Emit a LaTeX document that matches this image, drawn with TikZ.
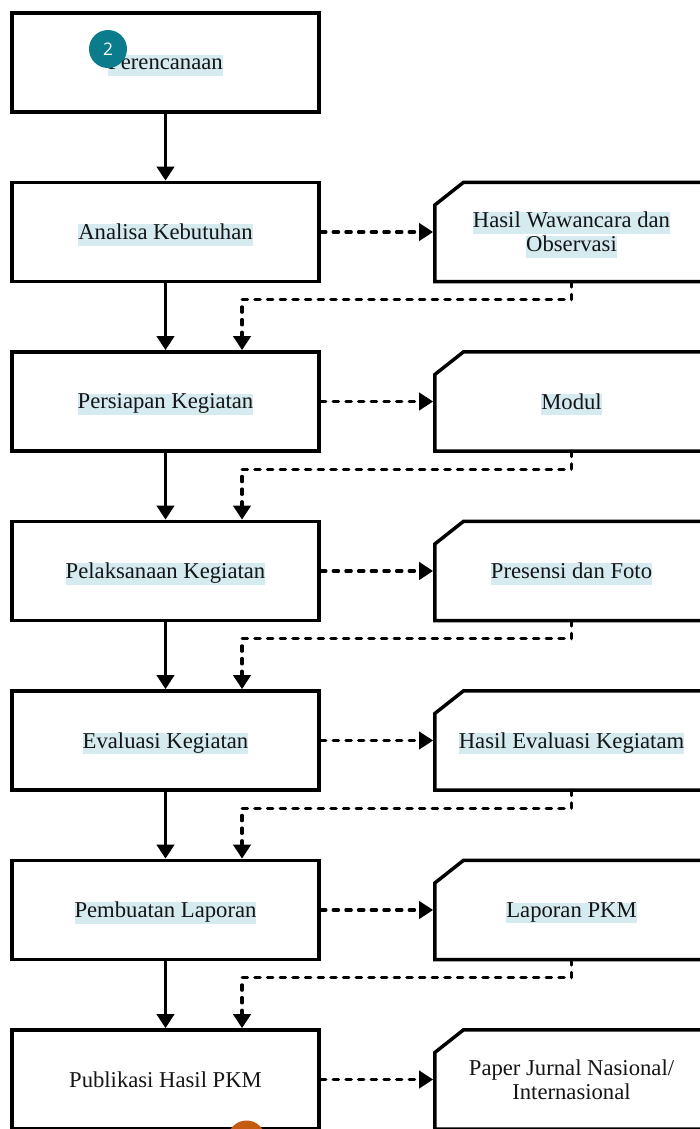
\documentclass[tikz,border=0pt]{standalone}
\usepackage{xcolor}
\usepackage{fontspec}
\setmainfont{Liberation Serif}
\newfontfamily\notefont{Open Sans}
\usepackage{tikz}
\usetikzlibrary{arrows.meta,positioning}
\definecolor{MarkBG}     {HTML}{D5EBEF}
\definecolor{NoteTeal}   {HTML}{0B7C8B}
\definecolor{NoteOrange} {HTML}{C55A11}
\definecolor{InkText}    {HTML}{151515}
\newcommand{\hilite}[1]{\raisebox{-2.2pt}[\height][\depth]{\setlength{\fboxsep}{0pt}\colorbox{MarkBG}{\rule[-4.5pt]{0pt}{13pt}#1}}}

\begin{document}
\begin{tikzpicture}[x=0.75pt,y=-0.75pt,
    stagebox/.style={draw,line width=2.6pt,minimum width=230pt,minimum height=74.5pt,
                     inner sep=0pt,align=center,text=InkText,font=\fontsize{17}{18}\selectfont},
    outbox/.style={stagebox,draw=none,outer sep=0pt,minimum width=205pt},
    outline/.style={line width=2.6pt,line join=miter},
    flow/.style={line width=2.4pt,-{Triangle[length=10.5pt,width=13pt]}},
    feed/.style={flow,dash pattern=on 4pt off 5.5pt,line cap=round},
    note/.style={circle,inner sep=0pt,minimum size=28.5pt,text=white,
                 font=\notefont\fontsize{13}{13}\selectfont}]
    \useasboundingbox (0,0) rectangle (700,1129);

    \node[stagebox] (s1) at (165.5,62.5)  {\hilite{Perencanaan}};
    \node[stagebox] (s2) at (165.5,232)   {\hilite{Analisa Kebutuhan}};
    \node[stagebox] (s3) at (165.5,401.5) {\hilite{Persiapan Kegiatan}};
    \node[stagebox] (s4) at (165.5,571)   {\hilite{Pelaksanaan Kegiatan}};
    \node[stagebox] (s5) at (165.5,740.5) {\hilite{Evaluasi Kegiatan}};
    \node[stagebox] (s6) at (165.5,910)   {\hilite{Pembuatan Laporan}};
    \node[stagebox] (s7) at (165.5,1079.5){Publikasi Hasil PKM};

    \node[outbox] (o2) at (571.5,232)   {\hilite{Hasil Wawancara dan}\\\hilite{Observasi}};
    \node[outbox] (o3) at (571.5,401.5) {\hilite{Modul}};
    \node[outbox] (o4) at (571.5,571)   {\hilite{Presensi dan Foto}};
    \node[outbox] (o5) at (571.5,740.5) {\hilite{Hasil Evaluasi Kegiatam}};
    \node[outbox] (o6) at (571.5,910)   {\hilite{Laporan PKM}};
    \node[outbox] (o7) at (571.5,1079.5){Paper Jurnal Nasional/\\Internasional};

    \foreach \i in {2,...,7}
      \draw[outline] ([yshift=-17pt]o\i.north west) -- ([xshift=21.5pt]o\i.north west)
        -- (o\i.north east) -- (o\i.south east) -- (o\i.south west) -- cycle;

    \foreach \i/\j in {1/2,2/3,3/4,4/5,5/6,6/7}
      \draw[flow] (s\i.south) -- (s\j.north);
    \foreach \i in {2,...,7}
      \draw[feed,shorten >=1.3pt] (s\i.east) -- (o\i.west);
    \foreach \i/\j in {2/3,3/4,4/5,5/6,6/7}
      \draw[feed] (o\i.south) -- ++(0,18) -| ([xshift=57.4pt]s\j.north);

    \node[note,fill=NoteTeal] (n2) at (108,49) {2};
    \node[note,fill=NoteOrange] (n3) at (246.5,1139.5) {};
\end{tikzpicture}
\end{document}
